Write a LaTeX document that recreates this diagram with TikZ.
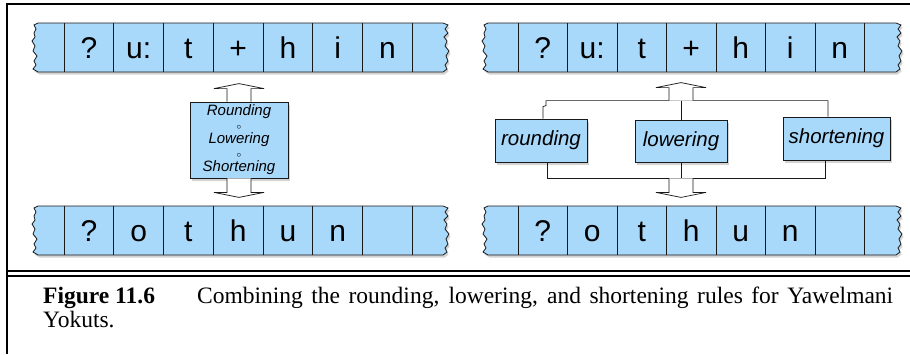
\documentclass[tikz,border=0pt]{standalone}
\usepackage{fontspec}
\setmainfont{Liberation Serif}
\newfontfamily\tapefont{Liberation Sans}
\usetikzlibrary{shadows}
\definecolor{tapeblue}{RGB}{168,216,250}
\definecolor{inkgray}{RGB}{25,25,25}

% torn strip: #1 left x, #2 top y, #3 width
\newcommand{\tornstrip}[3]{%
  \begin{scope}[shift={(#1,#2)}]
    \filldraw[stripfill] (4,0) -- (#3-4,0) -- (#3+1,2) -- (#3-2,6) -- (#3+1,10)
      -- (#3-3,14) -- (#3,18) -- (#3-2,23) -- (#3+2,28) -- (#3-1,33) -- (#3+1,38)
      -- (#3-2,42) -- (#3,46) -- (#3-4,49) -- (4,49) -- (-1,46) -- (2,42) -- (0,38)
      -- (3,33) -- (-1,28) -- (1,23) -- (-2,18) -- (1,14) -- (0,10) -- (2,6)
      -- (0,2) -- cycle;
  \end{scope}}
\newcommand{\compose}{{\fontsize{9}{9}\selectfont$\circ$}}

\begin{document}
\begin{tikzpicture}[x=1pt, y=-1pt,
  frame/.style={draw=black, line width=1.8pt},
  stripfill/.style={fill=tapeblue, draw=inkgray, line width=0.8pt,
    drop shadow={shadow xshift=1.5pt, shadow yshift=-2.5pt, opacity=0.35}},
  divider/.style={draw=inkgray, line width=0.8pt},
  segment/.style={font=\tapefont\fontsize{30}{32}\selectfont, inner sep=0pt, anchor=base},
  rulebox/.style={fill=tapeblue, draw=inkgray, line width=0.8pt, inner sep=0pt,
    align=center, font=\tapefont\itshape\fontsize{20.5}{22}\selectfont,
    drop shadow={shadow xshift=1.5pt, shadow yshift=-2.5pt, opacity=0.35}},
  bracket/.style={draw=inkgray, line width=0.7pt},
  captext/.style={inner sep=0pt, anchor=base west, font=\fontsize{23.5}{27}\selectfont},
  fatup/.pic={\filldraw[fill=white, draw=inkgray, line width=0.7pt]
    (-12,0) -- (-12,-13) -- (-25,-13) -- (0,-18) -- (25,-13) -- (12,-13) -- (12,0);},
  fatdown/.pic={\filldraw[fill=white, draw=inkgray, line width=0.7pt]
    (-12,0) -- (-12,14) -- (-25,14) -- (0,19) -- (25,14) -- (12,14) -- (12,0);}]

\useasboundingbox (0,0) rectangle (910,354);

% Rahmen
\draw[frame] (910,4) -- (7,4) -- (7,354);
\draw[frame] (7,271) -- (910,271);
\draw[frame] (7,276) -- (910,276);

% Baender
\tornstrip{34}{23}{413}
\tornstrip{484}{23}{416}
\tornstrip{34}{206}{413}
\tornstrip{484}{206}{416}

\foreach \i in {0,...,7} {
  \draw[divider] (64+\i*49.75,23) -- ++(0,49);
  \draw[divider] (64+\i*49.75,206) -- ++(0,49);
  \draw[divider] (518+\i*49.5,23) -- ++(0,49);
  \draw[divider] (518+\i*49.5,206) -- ++(0,49);
}

% Segmente
\foreach \c [count=\i] in {?,u:,t,+,h,i,n} {
  \node[segment] (lin\i) at (64+\i*49.75-24.9,58) {\c};
  \node[segment] (rin\i) at (518+\i*49.5-24.75,58) {\c};
}
\foreach \c [count=\i] in {?,o,t,h,u,n} {
  \node[segment] (lout\i) at (64+\i*49.75-24.9,241) {\c};
  \node[segment] (rout\i) at (518+\i*49.5-24.75,241) {\c};
}

% linke Seite: komponierte Regel
\node[rulebox, minimum width=98pt, minimum height=76pt,
  font=\tapefont\itshape\fontsize{15}{14}\selectfont] (combined) at (239,140)
  {Rounding\\\compose\\Lowering\\\compose\\Shortening};
\pic at (combined.north) {fatup};
\pic at (combined.south) {fatdown};

% rechte Seite: parallele Regeln
\node[rulebox, minimum width=92pt, minimum height=43pt] (rounding) at (541,140.5) {rounding};
\node[rulebox, minimum width=92pt, minimum height=42pt] (lowering) at (681,141) {lowering};
\node[rulebox, minimum width=107pt, minimum height=43pt] (shortening) at (836.5,138.5) {shortening};

\coordinate (upbar) at ([yshift=19pt]lowering.north);
\coordinate (downbar) at ([yshift=-16pt]lowering.south);
\coordinate (shortup) at ([xshift=-8.5pt]shortening.north);
\coordinate (shortdown) at ([xshift=-11.5pt]shortening.south);

\draw[bracket] ([xshift=2pt]rounding.north) -- ++(0,-12) -- ++(3,-1) -- ++(0,-5)
  -- (upbar) -- (upbar -| shortup) -- (shortup);
\draw[bracket] (lowering.north) -- (upbar);
\draw[bracket] ([xshift=6pt]rounding.south) |- (downbar) -| (shortdown);
\draw[bracket] (lowering.south) -- (downbar);

\pic at (upbar) {fatup};
\pic at (downbar) {fatdown};

% Bildunterschrift
\node[captext] (figlabel) at (43,303) {\textbf{Figure 11.6}};
\node[captext] (figtext) at (197,303)
  {\makebox[696pt][s]{Combining the rounding, lowering, and shortening rules for Yawelmani}};
\node[captext] (figtail) at (43,327) {Yokuts.};

\end{tikzpicture}
\end{document}
